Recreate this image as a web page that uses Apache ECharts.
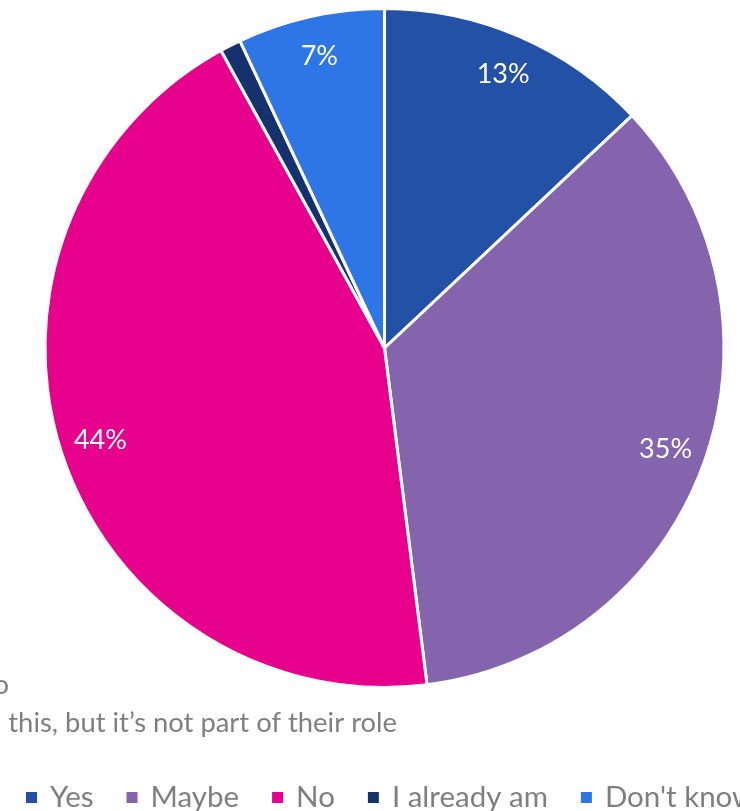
<!DOCTYPE html>
<html>
<head>
<meta charset="utf-8">
<script src="https://cdn.jsdelivr.net/npm/echarts@6/dist/echarts.min.js"></script>
<style>
  html, body { margin: 0; padding: 0; background: #ffffff; }
  #chart { width: 740px; height: 811px; }
</style>
</head>
<body>
<div id="chart"></div>
<script>
// Survey answers (share of respondents, %)
const categories = ['Yes', 'Maybe', 'No', 'I already am', "Don't know"];
const shares = [13, 35, 44, 1, 7];
const colors = ['#2351A6', '#8464AD', '#E6008C', '#15316E', '#2E75E6'];
// Slices too thin to carry a label
const unlabelled = ['I already am'];

const FONT = 'Lato, "Open Sans", sans-serif';
const CENTER = [384.5, 348];
const R = 339.5;

const sliceData = categories.map((name, i) => ({
  name,
  value: shares[i],
  itemStyle: { color: colors[i] }
}));

const labelData = categories.map((name, i) => ({
  name,
  value: shares[i],
  label: { show: unlabelled.indexOf(name) < 0 }
}));

const chart = echarts.init(document.getElementById('chart'), null, { renderer: 'canvas' });

chart.setOption({
  animation: false,
  backgroundColor: '#ffffff',
  legend: {
    data: categories,
    left: 26,
    top: 782,
    padding: 0,
    width: 2000,
    orient: 'horizontal',
    icon: 'rect',
    itemWidth: 11,
    itemHeight: 11,
    itemGap: 33,
    itemStyle: { borderWidth: 0 },
    textStyle: {
      fontFamily: FONT,
      fontSize: 29.5,
      fontWeight: 'normal',
      color: '#7f7f7f',
      lineHeight: 31,
      padding: [0, 0, 0, 8]
    }
  },
  graphic: [
    {
      type: 'text',
      x: 9,
      y: 672,
      style: { text: 'to', font: '27.4px ' + FONT, fill: '#7f7f7f', textAlign: 'right' }
    },
    {
      type: 'text',
      x: 397,
      y: 710,
      style: {
        text: 'do this, but it\u2019s not part of their role',
        font: '27.4px ' + FONT,
        fill: '#7f7f7f',
        textAlign: 'right'
      }
    }
  ],
  series: [
    {
      name: 'slices',
      type: 'pie',
      center: CENTER,
      radius: [0, R],
      startAngle: 90,
      clockwise: true,
      avoidLabelOverlap: false,
      label: { show: false },
      labelLine: { show: false },
      itemStyle: { borderColor: '#ffffff', borderWidth: 3 },
      emphasis: { disabled: true },
      data: sliceData
    },
    {
      // transparent ring carrying the percentage labels near the rim
      name: 'labels',
      type: 'pie',
      center: CENTER,
      radius: [252, R],
      startAngle: 90,
      clockwise: true,
      silent: true,
      avoidLabelOverlap: false,
      itemStyle: { color: 'rgba(0,0,0,0)', borderWidth: 0 },
      labelLine: { show: false },
      label: {
        show: true,
        position: 'inside',
        formatter: p => Math.round(p.value) + '%',
        fontFamily: FONT,
        fontSize: 27,
        fontWeight: 'normal',
        color: '#ffffff'
      },
      emphasis: { disabled: true },
      data: labelData
    }
  ]
});
</script>
</body>
</html>
